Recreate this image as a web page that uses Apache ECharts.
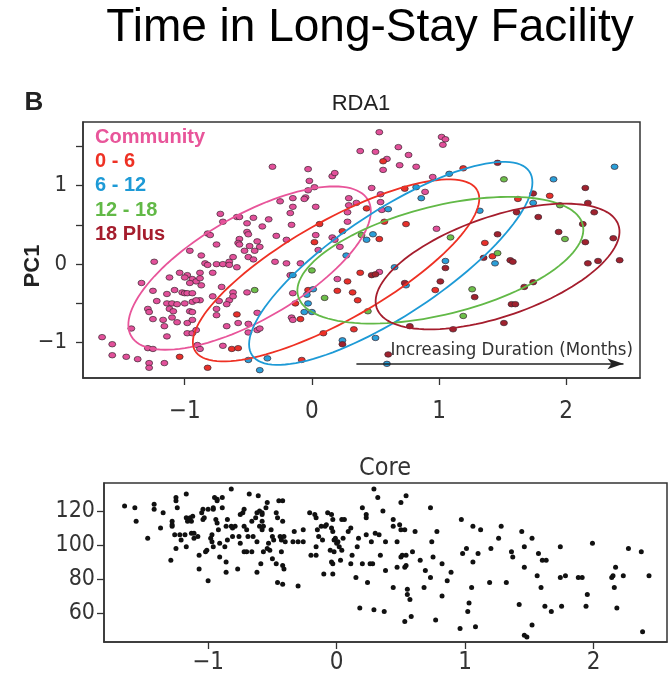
<!DOCTYPE html>
<html><head><meta charset="utf-8">
<script src="https://cdn.jsdelivr.net/npm/echarts@6/dist/echarts.min.js"></script>
<style>html,body{margin:0;padding:0;background:#fff}#c{width:669px;height:676px}</style>
</head><body><div id="c"></div>
<script>
// ---- data ----
const groupNames = ['Community', '0 - 6', '6 - 12', '12 - 18', '18 Plus'];
const groupColors = ['#e8559a', '#ee3124', '#1d9ad6', '#62b947', '#a51d2d'];
const pointColors = ['#e2509a', '#e8302a', '#2a9fd8', '#6cbf4a', '#a0222e'];

const communityPts = [
[-0.31,1.24],[-0.03,1.21],[0.16,1.12],[0.18,1.16],[-0.02,1.06],[-0.03,0.94],[0.02,0.98],[-0.15,0.84],[-0.05,0.85],[-0.06,0.83],[-0.25,0.80],[-0.15,0.73],[0.03,0.73],[-0.17,0.65],[-0.72,0.64],[-0.59,0.60],[-0.57,0.60],[-0.46,0.59],[-0.34,0.57],[-0.70,0.54],[-0.51,0.52],[-0.39,0.48],[-0.16,0.50],[-0.82,0.39],[-0.80,0.37],[-0.51,0.41],[-0.50,0.38],[-0.57,0.32],[0.03,0.37],[-0.58,0.27],[-0.57,0.25],[-0.43,0.29],[-0.28,0.36],[-0.75,0.25],[-0.49,0.23],[-0.41,0.22],[-0.96,0.17],[-0.53,0.17],[-0.45,0.17],[-0.20,0.31],[-0.87,0.11],[-0.62,0.09],[-0.50,0.09],[-0.46,0.06],[0.05,0.18],[-1.24,0.03],[-0.29,0.03],[-0.20,0.01],[-0.09,0.01],[-0.84,0.01],[-0.82,-0.01],[-0.75,0.00],[-0.70,0.00],[-0.65,0.03],[-0.65,-0.01],[-1.04,-0.11],[-0.98,-0.14],[-0.88,-0.11],[-0.78,-0.11],[-0.59,-0.04],[-0.17,-0.14],[-1.34,-0.24],[-1.12,-0.17],[-0.94,-0.19],[-0.91,-0.22],[-0.88,-0.18],[-0.96,-0.24],[-1.00,-0.17],[-0.87,-0.27],[-0.71,-0.29],[-0.62,-0.36],[-0.51,-0.36],[-1.25,-0.34],[-1.14,-0.38],[-1.08,-0.33],[-1.02,-0.36],[-1.00,-0.37],[-0.98,-0.37],[-0.94,-0.37],[-0.88,-0.46],[-0.78,-0.41],[-0.73,-0.47],[-0.65,-0.46],[-0.62,-0.41],[-1.22,-0.47],[-1.14,-0.50],[-1.10,-0.50],[-1.06,-0.51],[-1.00,-0.50],[-0.94,-0.48],[-0.91,-0.46],[-0.67,-0.51],[-1.29,-0.57],[-1.28,-0.61],[-1.12,-0.57],[-1.09,-0.60],[-0.96,-0.60],[-0.94,-0.61],[-0.75,-0.57],[-0.43,-0.62],[-0.15,-0.37],[-0.16,-0.68],[-0.15,-0.71],[-1.25,-0.70],[-1.17,-0.71],[-1.10,-0.68],[-1.06,-0.74],[-0.98,-0.75],[-0.94,-0.71],[-1.16,-0.79],[-0.75,-0.65],[-0.58,-0.75],[-0.67,-0.79],[-0.50,-0.76],[-1.42,-0.82],[-0.98,-0.88],[-0.94,-0.88],[-0.91,-0.84],[-1.14,-0.92],[-0.50,-0.87],[-0.43,-0.84],[-0.41,-0.82],[-1.65,-0.93],[-1.57,-1.02],[-0.90,-1.03],[-0.88,-1.08],[-0.70,-1.04],[-1.29,-1.07],[-1.25,-1.08],[-1.57,-1.16],[-1.46,-1.18],[-1.37,-1.21],[-1.16,-1.26],[-1.28,-1.26],[-1.28,-1.32],
[0.53,1.68],[1.02,1.62],[1.05,1.59],[1.03,1.52],[0.38,1.44],[0.50,1.43],[0.68,1.49],[0.76,1.39],[0.59,1.34],[0.69,1.26],[0.82,1.24],[0.56,1.20],[0.95,1.11],[0.47,0.97],[0.54,0.89],[0.89,0.92],[0.29,0.84],[0.35,0.78],[0.29,0.75],[0.54,0.79],[0.55,0.69],[0.28,0.66],[0.28,0.54],[0.98,0.45],[0.16,0.34],[0.18,0.31],[0.22,0.22],[0.53,-0.10],[0.20,-0.19]
];
const months0to6Pts = [
[0.06,0.51],[0.02,0.28],[-0.59,-0.64],[-0.13,-0.50],[-0.03,-0.33],[-0.09,-0.70],[-0.63,-1.08],[-0.58,-1.07],[-1.04,-1.18],[-0.82,-1.32],[-0.08,-1.22],[0.09,-0.88],[0.56,1.31],[1.19,1.22],[0.73,0.96],[1.62,0.83],[1.87,0.87],[0.43,0.71],[0.57,0.54],[0.74,0.51],[0.24,0.42],[0.53,0.32],[1.36,0.27],[1.42,0.10],[0.38,-0.11],[0.28,-0.22],[0.20,-0.34],[0.32,-0.36],[0.36,-0.46],[0.97,-0.33],[0.33,-0.83]
];
const months6to12Pts = [
[-0.15,-0.14],[-0.04,-0.39],[0.01,-0.32],[-0.03,-0.50],[-0.06,-0.61],[0.00,-0.61],[-0.50,-1.22],[-0.35,-1.20],[-0.41,-1.35],[1.08,1.15],[2.38,1.24],[1.90,1.08],[0.82,0.98],[0.86,0.84],[1.74,0.78],[0.60,0.70],[1.32,0.68],[0.48,0.38],[0.43,0.31],[0.27,0.11],[1.44,0.01],[1.05,0.04],[0.65,-0.04],[0.74,-0.27],[0.24,-0.97],[0.50,-0.94],[0.59,-1.27]
];
const months12to18Pts = [
[-0.45,-0.33],[0.00,-0.08],[0.10,-0.43],[1.51,1.08],[1.95,0.75],[0.39,0.37],[1.09,0.34],[1.99,0.32],[1.46,0.14],[1.26,-0.32],[0.44,-0.60],[1.19,-0.66]
];
const months18PlusPts = [
[1.46,1.29],[2.15,0.97],[1.74,0.90],[2.17,0.78],[1.61,0.66],[1.78,0.60],[2.22,0.66],[2.13,0.51],[1.46,0.38],[1.94,0.41],[2.37,0.33],[2.15,0.28],[1.35,0.08],[1.56,0.05],[1.58,0.03],[1.05,-0.05],[2.17,0.01],[2.25,0.04],[2.42,0.05],[0.47,-0.14],[0.50,-0.13],[0.73,-0.24],[1.01,-0.22],[1.28,-0.42],[1.74,-0.23],[1.67,-0.29],[1.57,-0.51],[1.60,-0.51],[0.77,-0.79],[1.11,-0.83],[1.51,-0.75],[0.24,-1.02],[0.60,-1.15]
];
// ellipse per group: centre, semi-axis vector 1, semi-axis vector 2 (data units)
const ellipseCenter = [[-0.49,-0.05],[0.19,-0.08],[0.62,0.01],[1.01,0.05],[1.46,-0.03]];
const ellipseAxisA = [[0.93,0.87],[1.11,1.02],[1.09,1.17],[1.12,0.45],[0.95,0.53]];
const ellipseAxisB = [[0.21,-0.57],[0.19,-0.55],[0.23,-0.55],[0.10,-0.67],[0.13,-0.60]];
const arrowStart = [0.35, -1.27];
const arrowEnd = [2.45, -1.27];

const corePts = [
[-1.65,123],[-1.57,122],[-1.56,114],[-1.47,104],[-1.42,121],[-1.42,124],[-1.37,110],[-1.35,119],[-1.29,91],[-1.28,112],[-1.28,111],[-1.28,114],[-1.26,106],[-1.25,98],[-1.25,126],[-1.25,128],[-1.24,122],[-1.22,106],[-1.21,103],[-1.18,106],[-1.17,130],[-1.17,116],[-1.16,114],[-1.17,99],[-1.14,116],[-1.13,114],[-1.12,117],[-1.13,107],[-1.11,107],[-1.11,104],[-1.08,105],[-1.07,94],[-1.07,86],[-1.05,119],[-1.04,121],[-1.04,115],[-1.03,116],[-1.02,96],[-1.01,97],[-1.00,121],[-1.00,79],[-0.98,104],[-0.97,102],[-0.96,99],[-0.97,106],[-0.96,121],[-0.96,122],[-0.95,128],[-0.93,127],[-0.93,126],[-0.94,115],[-0.93,113],[-0.92,109],[-0.91,101],[-0.91,93],[-0.89,122],[-0.89,128],[-0.87,99],[-0.86,90],[-0.86,84],[-0.86,111],[-0.85,115],[-0.85,103],[-0.82,133],[-0.82,111],[-0.81,110],[-0.79,111],[-0.81,105],[-0.77,86],[-0.75,101],[-0.76,105],[-0.75,118],[-0.73,119],[-0.72,121],[-0.72,96],[-0.70,96],[-0.66,96],[-0.72,111],[-0.70,109],[-0.69,105],[-0.65,105],[-0.62,102],[-0.68,130],[-0.66,114],[-0.63,116],[-0.62,84],[-0.62,119],[-0.60,120],[-0.58,118],[-0.58,119],[-0.61,129],[-0.60,111],[-0.58,109],[-0.57,111],[-0.58,114],[-0.59,89],[-0.57,96],[-0.54,98],[-0.55,122],[-0.54,125],[-0.52,97],[-0.53,101],[-0.51,109],[-0.50,105],[-0.49,103],[-0.50,92],[-0.47,89],[-0.46,78],[-0.47,119],[-0.46,116],[-0.45,126],[-0.42,126],[-0.44,105],[-0.43,103],[-0.41,105],[-0.43,96],[-0.42,77],[-0.42,114],[-0.42,88],[-0.41,86],[-0.40,102],[-0.34,102],[-0.33,108],[-0.30,76],[-0.30,102],[-0.26,102],[-0.26,109],[-0.21,119],[-0.20,94],[-0.17,118],[-0.16,116],[-0.16,99],[-0.16,94],[-0.15,109],[-0.14,105],[-0.12,111],[-0.11,103],[-0.10,83],[-0.09,111],[-0.08,112],[-0.07,119],
[-0.04,118],[-0.03,115],[-0.04,110],[-0.03,108],[-0.02,103],[-0.01,104],[0.00,101],[0.01,102],[-0.05,97],[-0.02,96],[-0.04,90],[-0.03,89],[-0.03,83],[0.02,99],[0.04,97],[0.05,104],[0.04,115],[0.06,115],[0.03,91],[0.09,108],[0.11,110],[0.12,94],[0.11,89],[0.15,81],[0.16,99],[0.17,104],[0.18,63],[0.20,122],[0.23,118],[0.23,116],[0.20,89],[0.23,106],[0.24,78],[0.26,89],[0.28,89],[0.27,102],[0.29,133],[0.29,62],[0.30,107],[0.33,106],[0.32,128],[0.34,94],[0.36,120],[0.37,61],[0.38,102],[0.38,85],[0.44,115],[0.44,111],[0.44,75],[0.47,102],[0.47,87],[0.50,93],[0.51,94],[0.50,125],[0.54,129],[0.49,112],[0.50,109],[0.53,109],[0.53,87],[0.54,88],[0.54,94],[0.55,74],[0.55,71],[0.57,68],[0.53,55],[0.58,58],[0.59,96],[0.61,108],[0.65,91],[0.68,75],[0.69,85],[0.73,122],[0.74,102],[0.73,81],[0.75,93],[0.77,56],[0.78,108],[0.82,89],[0.82,70],[0.86,79],[0.89,84],[0.96,51],[0.97,115],[0.98,95],[1.01,98],[1.02,61],[1.03,66],[1.05,75],[1.06,111],[1.06,90],[1.08,52],[1.10,95],[1.12,109],[1.19,78],[1.20,98],[1.26,104],[1.28,111],[1.32,78],[1.36,96],[1.37,93],[1.42,65],[1.44,108],[1.46,99],[1.46,87],[1.46,47],[1.48,46],[1.52,104],[1.52,53],[1.56,82],[1.57,95],[1.59,75],[1.60,91],[1.63,91],[1.62,64],[1.67,61],[1.74,99],[1.74,81],[1.78,82],[1.75,64],[1.88,81],[1.91,81],[1.94,64],[1.95,71],[1.99,101],[2.14,81],[2.15,82],[2.16,75],[2.17,87],[2.18,63],[2.23,82],[2.27,98],[2.37,96],[2.38,49],[2.43,82]
];

const topXRange = [-1.80, 2.58];
const topYRange = [-1.45, 1.81];
const topXTicks = [-1, 0, 1, 2];
const topYTicks = [-1, -0.5, 0, 0.5, 1, 1.5];
const topYLabels = [-1, 0, 1];
const coreXRange = [-1.81, 2.57];
const coreYRange = [43, 136.5];
const coreXTicks = [-1, 0, 1, 2];
const coreYTicks = [60, 80, 100, 120];

// ---- chart ----
const groupPts = [communityPts, months0to6Pts, months6to12Pts, months12to18Pts, months18PlusPts];
const NARROW = '"Liberation Sans Narrow","DejaVu Sans Condensed","Liberation Sans",sans-serif';
const SANS = '"Liberation Sans",Arial,sans-serif';
const AX = '#333';
const fmt = v => (v < 0 ? '\u2212' + Math.abs(v) : String(v));

function axisCommon(labelSize, margin, ticks, labels) {
  return {
    axisLine: { show: true, onZero: false, lineStyle: { color: AX, width: 1.5 } },
    axisTick: { show: true, inside: false, length: 7, lineStyle: { color: AX, width: 1.3 }, customValues: ticks },
    axisLabel: { show: true, color: AX, fontSize: labelSize, fontFamily: NARROW, margin: margin, formatter: fmt, customValues: labels || ticks },
    splitLine: { show: false }
  };
}

const series = [];
groupNames.forEach((name, i) => {
  series.push({
    type: 'scatter', name: name, xAxisIndex: 0, yAxisIndex: 0,
    data: groupPts[i], symbol: 'circle', symbolSize: [7, 5.5],
    itemStyle: { color: pointColors[i], borderColor: '#3b2630', borderWidth: 0.7, opacity: 1 },
    z: 2
  });
});
groupNames.forEach((name, i) => {
  series.push({
    type: 'custom', name: name, xAxisIndex: 0, yAxisIndex: 0, z: 3, silent: true,
    data: [[ellipseCenter[i][0], ellipseCenter[i][1], ellipseAxisA[i][0], ellipseAxisA[i][1], ellipseAxisB[i][0], ellipseAxisB[i][1]]],
    encode: { x: 0, y: 1 },
    renderItem: function (params, api) {
      const cx = api.value(0), cy = api.value(1), ax = api.value(2), ay = api.value(3), bx = api.value(4), by = api.value(5);
      const pts = [];
      const N = 120;
      for (let k = 0; k <= N; k++) {
        const t = 2 * Math.PI * k / N;
        pts.push(api.coord([cx + ax * Math.cos(t) + bx * Math.sin(t), cy + ay * Math.cos(t) + by * Math.sin(t)]));
      }
      return { type: 'polyline', shape: { points: pts }, style: { fill: 'none', stroke: groupColors[i], lineWidth: 1.8 } };
    }
  });
});
series.push({
  type: 'scatter', name: 'arrow', xAxisIndex: 0, yAxisIndex: 0, data: [],
  markLine: {
    silent: true, symbol: ['none', 'arrow'], symbolSize: [8, 16], animation: false,
    lineStyle: { color: '#222', width: 1.5, type: 'solid' },
    label: { show: false },
    data: [[{ coord: arrowStart }, { coord: arrowEnd }]]
  }
});
series.push({
  type: 'scatter', name: 'Core', xAxisIndex: 1, yAxisIndex: 1,
  data: corePts, symbol: 'circle', symbolSize: 5,
  itemStyle: { color: '#111', opacity: 1 }
});

const option = {
  animation: false,
  backgroundColor: '#fff',
  grid: [
    { left: 83, top: 122, width: 557, height: 256, show: true, borderColor: AX, borderWidth: 1.5, backgroundColor: 'transparent' },
    { left: 104, top: 483, width: 563, height: 159, show: true, borderColor: AX, borderWidth: 1.5, backgroundColor: 'transparent' }
  ],
  xAxis: [
    Object.assign({ type: 'value', gridIndex: 0, min: topXRange[0], max: topXRange[1] }, axisCommon(24, 22, topXTicks)),
    Object.assign({ type: 'value', gridIndex: 1, min: coreXRange[0], max: coreXRange[1] }, axisCommon(24, 9, coreXTicks))
  ],
  yAxis: [
    Object.assign({ type: 'value', gridIndex: 0, min: topYRange[0], max: topYRange[1] }, axisCommon(22, 16, topYTicks, topYLabels)),
    Object.assign({ type: 'value', gridIndex: 1, min: coreYRange[0], max: coreYRange[1] }, axisCommon(23, 9, coreYTicks))
  ],
  legend: {
    orient: 'vertical', left: 90, top: 127, padding: 0, itemGap: 4,
    icon: 'none', itemWidth: 0, itemHeight: 20.5,
    textStyle: { fontSize: 20, fontFamily: SANS, fontWeight: 'bold' },
    data: groupNames.map((n, i) => ({ name: n, textStyle: { color: groupColors[i] } })),
    selectedMode: true
  },
  graphic: [
    { type: 'text', x: 370, y: 28, silent: true, style: { text: 'Time in Long-Stay Facility', fontSize: 46, fontFamily: SANS, fill: '#000', align: 'center', verticalAlign: 'middle' } },
    { type: 'text', x: 34, y: 103, silent: true, style: { text: 'B', fontSize: 26, fontWeight: 'bold', fontFamily: SANS, fill: '#222', align: 'center', verticalAlign: 'middle' } },
    { type: 'text', x: 361, y: 104, silent: true, style: { text: 'RDA1', fontSize: 22, fontFamily: SANS, fill: '#222', align: 'center', verticalAlign: 'middle' } },
    { type: 'text', x: 33, y: 266, rotation: Math.PI / 2, silent: true, style: { text: 'PC1', fontSize: 22, fontWeight: 'bold', fontFamily: SANS, fill: '#222', align: 'center', verticalAlign: 'middle' } },
    { type: 'text', x: 633, y: 350, silent: true, style: { text: 'Increasing Duration (Months)', fontSize: 18.5, fontFamily: NARROW, fill: '#333', align: 'right', verticalAlign: 'middle' } },
    { type: 'text', x: 385, y: 468, silent: true, style: { text: 'Core', fontSize: 25, fontFamily: NARROW, fill: '#333', align: 'center', verticalAlign: 'middle' } }
  ],
  series: series
};
const chart = echarts.init(document.getElementById('c'), null, { renderer: 'canvas' });
chart.setOption(option);
</script></body></html>
